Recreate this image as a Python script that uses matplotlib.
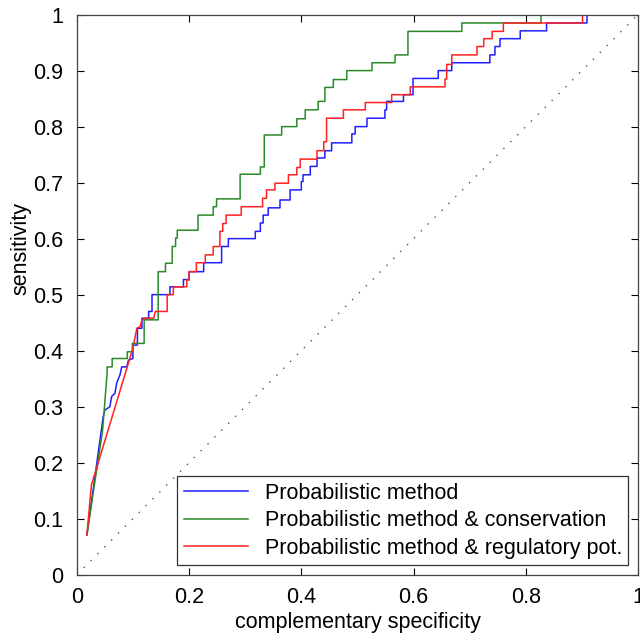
import matplotlib

matplotlib.use("Agg")
import matplotlib.pyplot as plt

plt.rcParams.update({
    "font.family": ["Liberation Sans", "DejaVu Sans"],
    "font.size": 15.5,
    "axes.linewidth": 0.9,
    "axes.edgecolor": "#444444",
    "xtick.direction": "in", "ytick.direction": "in",
    "xtick.top": True, "ytick.right": True,
    "xtick.major.size": 5, "ytick.major.size": 5,
    "xtick.major.width": 0.8, "ytick.major.width": 0.8,
    "xtick.major.pad": 9, "ytick.major.pad": 10,
    "xtick.labelsize": 15.5, "ytick.labelsize": 15.5,
})

# ROC vertices (complementary specificity, sensitivity)
prob_x = [0.018, 0.047, 0.05, 0.059, 0.062, 0.068, 0.071, 0.077, 0.08, 0.089, 0.092, 0.1, 0.1,
          0.108, 0.108, 0.116, 0.116, 0.128, 0.128, 0.134, 0.134, 0.166, 0.166, 0.19, 0.19, 0.2,
          0.2, 0.226, 0.226, 0.258, 0.258, 0.27, 0.27, 0.318, 0.318, 0.327, 0.327, 0.332, 0.332,
          0.341, 0.341, 0.362, 0.362, 0.38, 0.38, 0.4, 0.4, 0.403, 0.403, 0.416, 0.416, 0.428,
          0.428, 0.442, 0.442, 0.454, 0.454, 0.49, 0.49, 0.496, 0.496, 0.517, 0.517, 0.549, 0.549,
          0.552, 0.552, 0.582, 0.582, 0.599, 0.599, 0.644, 0.644, 0.668, 0.668, 0.736, 0.736,
          0.745, 0.745, 0.754, 0.754, 0.79, 0.79, 0.837, 0.837, 0.909, 0.909, 1.0]
prob_y = [0.071, 0.282, 0.294, 0.3, 0.318, 0.324, 0.342, 0.357, 0.371, 0.371, 0.383, 0.386, 0.41,
          0.41, 0.44, 0.44, 0.458, 0.458, 0.47, 0.47, 0.5, 0.5, 0.514, 0.514, 0.527, 0.527,
          0.541, 0.541, 0.557, 0.557, 0.586, 0.586, 0.6, 0.6, 0.613, 0.613, 0.628, 0.628, 0.642,
          0.642, 0.655, 0.655, 0.669, 0.669, 0.687, 0.687, 0.702, 0.702, 0.714, 0.714, 0.729,
          0.729, 0.744, 0.744, 0.757, 0.757, 0.771, 0.771, 0.787, 0.787, 0.8, 0.8, 0.815, 0.815,
          0.83, 0.83, 0.845, 0.845, 0.857, 0.857, 0.886, 0.886, 0.9, 0.9, 0.914, 0.914, 0.928,
          0.928, 0.943, 0.943, 0.957, 0.957, 0.971, 0.971, 0.985, 0.985, 1.0, 1.0]

cons_x = [0.018, 0.046, 0.054, 0.054, 0.063, 0.063, 0.09, 0.09, 0.099, 0.099, 0.12, 0.12, 0.145,
          0.145, 0.158, 0.158, 0.17, 0.17, 0.176, 0.176, 0.179, 0.179, 0.216, 0.216, 0.243, 0.243,
          0.249, 0.249, 0.291, 0.291, 0.327, 0.327, 0.334, 0.334, 0.365, 0.365, 0.392, 0.392,
          0.407, 0.407, 0.43, 0.43, 0.442, 0.442, 0.457, 0.457, 0.481, 0.481, 0.526, 0.526,
          0.567, 0.567, 0.59, 0.59, 0.686, 0.686, 0.827, 0.827, 1.0]
cons_y = [0.071, 0.258, 0.36, 0.371, 0.371, 0.386, 0.386, 0.398, 0.398, 0.413, 0.413, 0.455,
          0.455, 0.541, 0.541, 0.556, 0.556, 0.586, 0.586, 0.601, 0.601, 0.615, 0.615, 0.642,
          0.642, 0.657, 0.657, 0.671, 0.671, 0.715, 0.715, 0.728, 0.728, 0.785, 0.785, 0.8, 0.8,
          0.814, 0.814, 0.83, 0.83, 0.845, 0.845, 0.87, 0.87, 0.884, 0.884, 0.9, 0.9, 0.914,
          0.914, 0.928, 0.928, 0.97, 0.97, 0.985, 0.985, 1.0, 1.0]

reg_x = [0.018, 0.026, 0.099, 0.104, 0.107, 0.113, 0.116, 0.122, 0.137, 0.14, 0.161, 0.161, 0.172,
         0.172, 0.196, 0.196, 0.2, 0.2, 0.213, 0.213, 0.229, 0.229, 0.243, 0.243, 0.255, 0.255,
         0.26, 0.26, 0.266, 0.266, 0.293, 0.293, 0.331, 0.331, 0.338, 0.338, 0.353, 0.353, 0.377,
         0.377, 0.392, 0.392, 0.398, 0.398, 0.428, 0.428, 0.44, 0.44, 0.445, 0.445, 0.475, 0.475,
         0.514, 0.514, 0.561, 0.561, 0.594, 0.594, 0.656, 0.656, 0.659, 0.659, 0.668, 0.668,
         0.713, 0.713, 0.725, 0.725, 0.74, 0.74, 0.76, 0.76, 0.901, 0.901, 1.0]
reg_y = [0.071, 0.16, 0.401, 0.425, 0.44, 0.443, 0.455, 0.458, 0.458, 0.47, 0.47, 0.5, 0.5, 0.514,
         0.514, 0.526, 0.526, 0.541, 0.541, 0.557, 0.557, 0.571, 0.571, 0.586, 0.586, 0.613,
         0.613, 0.627, 0.627, 0.642, 0.642, 0.657, 0.657, 0.672, 0.672, 0.687, 0.687, 0.699,
         0.699, 0.714, 0.714, 0.727, 0.727, 0.742, 0.742, 0.757, 0.757, 0.773, 0.773, 0.815,
         0.815, 0.83, 0.83, 0.843, 0.843, 0.857, 0.857, 0.871, 0.871, 0.885, 0.885, 0.911, 0.911,
         0.928, 0.928, 0.943, 0.943, 0.957, 0.957, 0.97, 0.97, 0.985, 0.985, 1.0, 1.0]

labels = ["Probabilistic method",
          "Probabilistic method & conservation",
          "Probabilistic method & regulatory pot."]

fig = plt.figure(figsize=(6.4, 6.34), dpi=100)
ax = fig.add_axes([0.12, 0.0935, 0.877, 0.8835])

ax.plot(prob_x, prob_y, color="#1f1fff", lw=1.1, label=labels[0])
ax.plot(cons_x, cons_y, color="#2a8a2a", lw=1.1, label=labels[1])
ax.plot(reg_x, reg_y, color="#ff2020", lw=1.1, label=labels[2])
ax.plot([0, 1], [0, 1], color="#555555", lw=1.0, ls=(0, (1, 6)))

ax.set_xlim(0, 1)
ax.set_ylim(0, 1)
ax.set_xticks([0, 0.2, 0.4, 0.6, 0.8, 1])
ax.set_xticklabels(["0", "0.2", "0.4", "0.6", "0.8", "1"])
ax.set_yticks([i / 10 for i in range(11)])
ax.set_yticklabels(["0"] + [f"{i / 10:.1f}" for i in range(1, 10)] + ["1"])
ax.set_xlabel("complementary specificity", fontsize=15.5, labelpad=3)
ax.set_ylabel("sensitivity", fontsize=15.5)
ax.yaxis.set_label_coords(-0.08, 0.583)

leg = ax.legend(loc="lower right", fontsize=15.5, handlelength=3.0, handletextpad=0.75,
                fancybox=False, edgecolor="#333333", framealpha=1, labelspacing=0.3,
                borderpad=0.3, borderaxespad=0.45)
leg.get_frame().set_linewidth(0.9)

fig.savefig("out.png", dpi=100, facecolor="white")
